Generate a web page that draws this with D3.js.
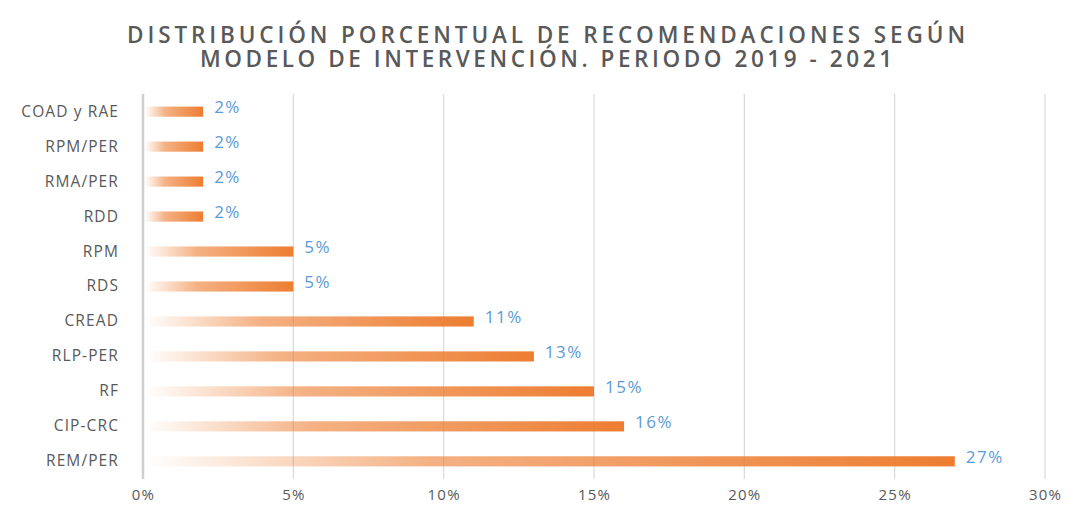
<!DOCTYPE html>
<html><head><meta charset="utf-8">
<script src="https://cdn.jsdelivr.net/npm/d3@7"></script>
<style>body{margin:0;background:#fff;} svg{display:block;}</style>
</head><body>
<svg id="chart" width="1082" height="514"></svg>
<script>
const categories = ["COAD y RAE","RPM/PER","RMA/PER","RDD","RPM","RDS","CREAD","RLP-PER","RF","CIP-CRC","REM/PER"];
const values = [2,2,2,2,5,5,11,13,15,16,27];
const valueLabels = ["2%","2%","2%","2%","5%","5%","11%","13%","15%","16%","27%"];
const tickValues = [0,5,10,15,20,25,30];
const tickLabels = ["0%","5%","10%","15%","20%","25%","30%"];
const titleLines = ["DISTRIBUCIÓN PORCENTUAL DE RECOMENDACIONES SEGÚN","MODELO DE INTERVENCIÓN. PERIODO 2019 - 2021"];

const svg = d3.select("#chart");
const W = 1082, H = 514;
svg.append("rect").attr("width",W).attr("height",H).attr("fill","#fff");

const x = d3.scaleLinear().domain([0,30]).range([143,1045]);
const y = d3.scaleBand().domain(categories).range([94,479]).paddingInner(0.71).paddingOuter(0.36);

const defs = svg.append("defs");
const grad = defs.append("linearGradient").attr("id","barGrad").attr("x1","0").attr("x2","1").attr("y1","0").attr("y2","0");
grad.append("stop").attr("offset","0%").attr("stop-color","#ED7D31").attr("stop-opacity",0);
grad.append("stop").attr("offset","35%").attr("stop-color","#ED7D31").attr("stop-opacity",0.6);
grad.append("stop").attr("offset","100%").attr("stop-color","#ED7D31").attr("stop-opacity",1);

// title (one text element, two lines)
const titleLengths = [838, 692];
svg.append("text")
  .attr("text-anchor","middle")
  .attr("font-family","'Open Sans', sans-serif").attr("font-weight",600)
  .attr("font-size",22.5).attr("fill","#595959")
  .selectAll("tspan").data(titleLines).join("tspan")
  .attr("x",546).attr("y",(d,i)=>43+i*24)
  .attr("textLength",(d,i)=>titleLengths[i]).attr("lengthAdjust","spacing")
  .text(d=>d);

// grid
svg.append("g").selectAll("line").data(tickValues).join("line")
  .attr("x1",d=>x(d)).attr("x2",d=>x(d)).attr("y1",94).attr("y2",479)
  .attr("stroke",d=>d===0?"#cfcfcf":"#d9d9d9").attr("stroke-width",d=>d===0?2.5:1.2);

// x axis labels
const xAxis = d3.axisBottom(x).tickValues(tickValues).tickFormat((d,i)=>tickLabels[i]).tickSize(0).tickPadding(0);
const gx = svg.append("g").attr("transform","translate(0,489)").call(xAxis);
gx.select(".domain").remove();
gx.selectAll("text").attr("font-family","'Open Sans', sans-serif").attr("font-size",15).attr("letter-spacing","1.2px").attr("fill","#595959").attr("dy","0.71em");

// y axis labels
const yAxis = d3.axisLeft(y).tickSize(0).tickPadding(0);
const gy = svg.append("g").attr("transform","translate(119,0)").call(yAxis);
gy.select(".domain").remove();
gy.selectAll("text").attr("font-family","'Open Sans', sans-serif").attr("font-size",15.5).attr("letter-spacing","1.1px").attr("fill","#595959");

// bars
svg.append("g").selectAll("rect").data(values).join("rect")
  .attr("x",x(0)+2).attr("y",(d,i)=>y(categories[i]))
  .attr("width",d=>x(d)-x(0)-2).attr("height",y.bandwidth())
  .attr("fill","url(#barGrad)");

// value labels
svg.append("g").selectAll("text").data(values).join("text")
  .attr("x",d=>x(d)+11).attr("y",(d,i)=>y(categories[i])+y.bandwidth()/2-3)
  .attr("font-family","'Open Sans', sans-serif").attr("font-size",17).attr("letter-spacing","1.5px").attr("fill","#5B9BD5")
  .attr("dominant-baseline","middle")
  .text((d,i)=>valueLabels[i]);
</script>
</body></html>
